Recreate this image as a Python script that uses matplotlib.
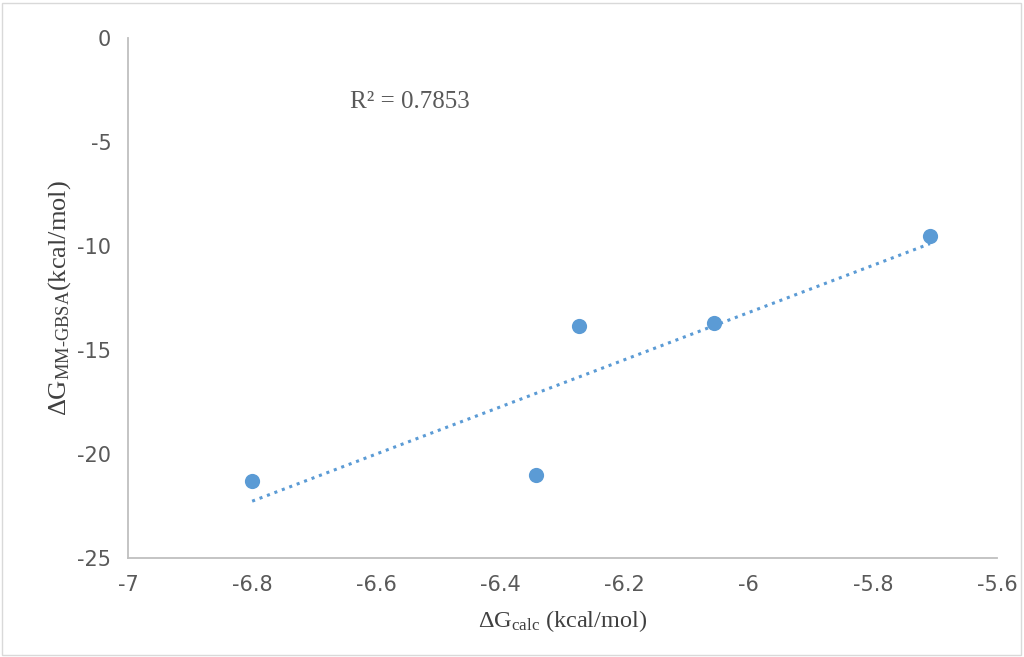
import numpy as np
import matplotlib
matplotlib.use('Agg')
import matplotlib.pyplot as plt
from matplotlib.patches import Rectangle

plt.rcParams['axes.unicode_minus'] = False
plt.rcParams['mathtext.fontset'] = 'custom'
plt.rcParams['mathtext.rm'] = 'Liberation Serif'
plt.rcParams['mathtext.it'] = 'Liberation Serif:italic'
plt.rcParams['mathtext.bf'] = 'Liberation Serif:bold'

dg_calc = [-6.80, -6.343, -6.273, -6.056, -5.708]
dg_mmgbsa = [-21.3, -21.0, -13.85, -13.7, -9.52]
x_ticks = [-7, -6.8, -6.6, -6.4, -6.2, -6, -5.8, -5.6]
y_ticks = [0, -5, -10, -15, -20, -25]

blue = '#5B9BD5'
tick_color = '#595959'
axis_color = '#BFBFBF'

fig = plt.figure(figsize=(10.24, 6.57), dpi=100)
ax = fig.add_axes([128 / 1024, 99 / 657, 869 / 1024, 520 / 657])

ax.scatter(dg_calc, dg_mmgbsa, s=120, color=blue, zorder=3, linewidths=0)

# linear trendline
k, b = np.polyfit(dg_calc, dg_mmgbsa, 1)
xs = np.array([min(dg_calc), max(dg_calc)])
ax.plot(xs, k * xs + b, color=blue, linestyle=(0, (1, 1.6)), linewidth=2.2, zorder=2)

ax.set_xlim(-7, -5.6)
ax.set_ylim(-25, 0)
ax.set_xticks(x_ticks)
ax.set_xticklabels([f'{t:g}' for t in x_ticks])
ax.set_yticks(y_ticks)
ax.set_yticklabels([f'{t:g}' for t in y_ticks])

for s in ['top', 'right']:
    ax.spines[s].set_visible(False)
for s in ['left', 'bottom']:
    ax.spines[s].set_color(axis_color)
    ax.spines[s].set_linewidth(1.3)

ax.tick_params(length=0, labelsize=15, colors=tick_color, labelcolor=tick_color)
ax.tick_params(axis='x', pad=12)
ax.tick_params(axis='y', pad=12)

ax.set_xlabel(r'$\Delta\mathrm{G}_{\mathrm{calc}}$ (kcal/mol)', family='Liberation Serif',
              fontsize=17.5, color='#404040', labelpad=10)
ax.set_ylabel(r'$\Delta\mathrm{G}_{\mathrm{MM\text{-}GBSA}}$(kcal/mol)', family='Liberation Serif',
              fontsize=19, color='#404040', labelpad=3)

ax.text(-6.546, -3.08, 'R² = 0.7853', family='Liberation Serif', fontsize=18,
        color='#595959', ha='center', va='center')

fig.patches.append(Rectangle((2 / 1024, 2 / 657), 1019 / 1024, 652 / 657,
                             transform=fig.transFigure, fill=False,
                             edgecolor='#D9D9D9', linewidth=1))

fig.savefig('out.png', dpi=100)
